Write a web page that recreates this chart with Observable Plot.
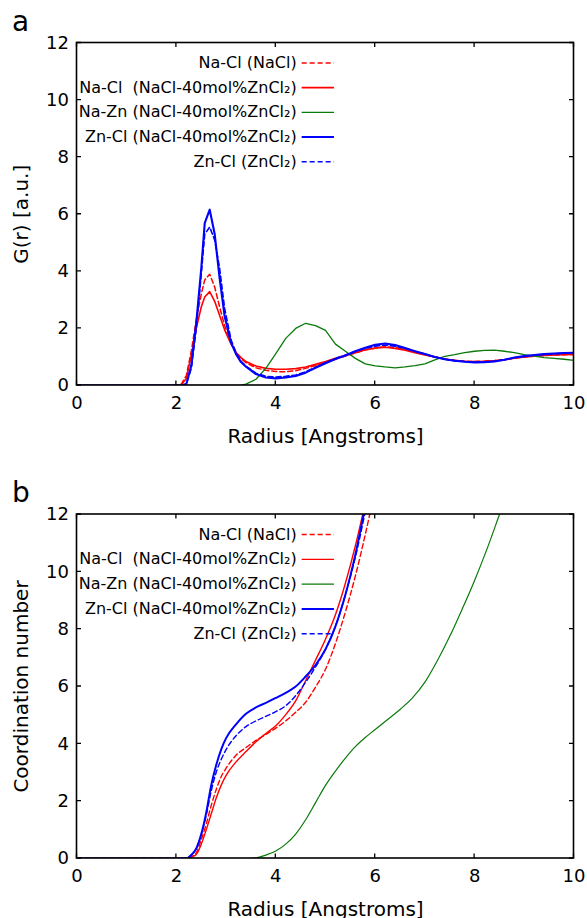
<!DOCTYPE html>
<html><head><meta charset="utf-8">
<script src="https://cdn.jsdelivr.net/npm/d3@7"></script>
<script src="https://cdn.jsdelivr.net/npm/@observablehq/plot@0.6"></script>
<style>
html,body{margin:0;padding:0;background:#fff;}
#wrap{width:587px;height:918px;overflow:hidden;}
#wrap svg{display:block;}
</style></head><body><div id="wrap"></div>
<script>
// ---- tick labels / axis text ----
const xTicks = [0, 2, 4, 6, 8, 10];
const yTicks = [0, 2, 4, 6, 8, 10, 12];
const xLabel = "Radius [Angstroms]";
const yLabelA = "G(r) [a.u.]";
const yLabelB = "Coordination number";
const seriesLabels = [
  "Na-Cl (NaCl)",
  "Na-Cl\u00a0 (NaCl-40mol%ZnCl\u2082)",
  "Na-Zn (NaCl-40mol%ZnCl\u2082)",
  "Zn-Cl (NaCl-40mol%ZnCl\u2082)",
  "Zn-Cl (ZnCl\u2082)"
];

// ---- panel a: G(r) ----
const rA = [0, 2.0, 2.1, 2.2, 2.3, 2.4, 2.5, 2.57, 2.67, 2.77, 2.87, 2.97, 3.1, 3.2, 3.3, 3.4, 3.6, 3.8, 4.0, 4.2, 4.4, 4.6, 4.8, 5.0, 5.2, 5.4, 5.6, 5.8, 6.0, 6.2, 6.4, 6.6, 6.8, 7.0, 7.2, 7.4, 7.6, 7.8, 8.0, 8.2, 8.4, 8.6, 8.8, 9.0, 9.2, 9.4, 9.6, 9.8, 10.0];
const naclNaClA = [0,0,0.05,0.35,1.2, 2.3,3.2,3.7,3.9,3.45, 2.75,2.1,1.5,1.15,0.95, 0.8,0.62,0.53,0.49,0.48, 0.52,0.6,0.7,0.8,0.92, 1.03,1.14,1.24,1.31,1.36, 1.33,1.26,1.17,1.08,1.0, 0.93,0.88,0.85,0.84,0.85, 0.87,0.9,0.96,1.0,1.03, 1.05,1.07,1.08,1.09];
const mixNaClA = [0,0,0.02,0.25,1.05, 2.0,2.75,3.1,3.29,2.95, 2.45,1.95,1.45,1.15,0.98, 0.84,0.68,0.6,0.57,0.57, 0.59,0.65,0.74,0.84,0.95, 1.05,1.15,1.25,1.31,1.34, 1.3,1.24,1.15,1.07,1.0, 0.93,0.88,0.85,0.84,0.85, 0.87,0.9,0.96,1.0,1.03, 1.05,1.07,1.08,1.09];
const mixNaZnA = [0,0,0,0,0, 0,0,0,0,0, 0,0,0,0,0.01, 0.05,0.22,0.6,1.12,1.65, 2.0,2.18,2.1,1.93,1.45, 1.2,0.95,0.76,0.69,0.65, 0.62,0.65,0.7,0.76,0.9, 1.02,1.08,1.15,1.2,1.23, 1.24,1.2,1.15,1.08,1.03, 0.98,0.95,0.92,0.88];
const mixZnClA = [0,0,0,0.05,0.7, 2.2,4.1,5.69,6.16,5.31, 3.75,2.43,1.5,1.1,0.82, 0.66,0.4,0.28,0.25,0.28, 0.33,0.45,0.62,0.78,0.93, 1.05,1.2,1.32,1.43,1.47, 1.42,1.31,1.2,1.1,1.0, 0.92,0.87,0.83,0.81,0.82, 0.84,0.9,0.98,1.03,1.07, 1.1,1.12,1.14,1.15];
const zncl2ZnClA = [0,0,0,0.05,0.6, 2.0,3.9,5.3,5.55,5.1, 4.1,2.7,1.6,1.15,0.85, 0.68,0.43,0.32,0.3,0.32, 0.37,0.48,0.64,0.8,0.95, 1.07,1.2,1.3,1.38,1.42, 1.38,1.3,1.2,1.1,1.0, 0.92,0.87,0.84,0.82,0.83, 0.85,0.9,0.97,1.02,1.06, 1.09,1.11,1.13,1.14];

// ---- panel b: coordination number (series end once they leave the top of the frame) ----
const rB = [0, 2.2, 2.3, 2.4, 2.5, 2.6, 2.7, 2.8, 2.9, 3.0, 3.2, 3.4, 3.6, 3.8, 4.0, 4.2, 4.4, 4.6, 4.8, 5.0, 5.2, 5.4, 5.6, 5.8, 6.0, 6.25, 6.5, 6.75, 7.0, 7.25, 7.5, 7.75, 8.0, 8.25, 8.5, 8.75];
const naclNaClB = [0,0,0.06,0.2,0.65,1.2,1.85,2.4,2.85,3.15,3.6,3.87,4.12,4.33,4.55,4.8,5.1,5.45,5.98,6.6,7.5,8.6,9.85,11.3,12.9];
const mixNaClB = [0,0,0.05,0.14,0.5,1.0,1.55,2.1,2.55,2.9,3.37,3.73,4.07,4.36,4.63,5.02,5.5,6.2,6.92,7.65,8.5,9.6,10.9,12.4];
const mixNaZnB = [0,0,0,0,0,0,0,0,0,0,0,0,0.02,0.12,0.26,0.5,0.85,1.35,1.95,2.55,3.05,3.5,3.9,4.22,4.5,4.85,5.2,5.6,6.15,6.9,7.75,8.7,9.7,10.8,12.0,13.2];
const mixZnClB = [0,0,0.12,0.35,0.85,1.6,2.55,3.25,3.8,4.2,4.68,5.05,5.27,5.43,5.6,5.78,6.0,6.35,6.75,7.3,8.1,9.2,10.6,12.3];
const zncl2ZnClB = [0,0,0.12,0.35,0.82,1.5,2.35,3.0,3.45,3.8,4.28,4.6,4.8,4.96,5.12,5.33,5.68,6.15,6.68,7.3,8.1,9.2,10.5,12.1];

// ---- styles (kept apart from data) ----
const styles = [
  {color: "#ff0000", dash: "5,3"},
  {color: "#ff0000", dash: null},
  {color: "#0a7a0a", dash: null},
  {color: "#0000ff", dash: null},
  {color: "#0000ff", dash: "5,3"}
];
const widthsA = [1.5, 1.6, 1.3, 2.1, 1.6];
const widthsB = [1.4, 1.4, 1.2, 2.0, 1.4];
const legendTextX = 4.42, legendLineX1 = 4.52, legendLineX2 = 5.17;
const legendTop = 11.3, legendStep = 0.865;

function frameTicks(xt, yt) {
  return (index, scales, values, dims) => {
    const l = dims.marginLeft, t = dims.marginTop;
    const r = dims.width - dims.marginRight, b = dims.height - dims.marginBottom;
    const L = 4.5;
    let p = "";
    for (const v of xt) { const x = scales.x(v); p += `M${x},${b}v${-L}M${x},${t}v${L}`; }
    for (const v of yt) { const y = scales.y(v); p += `M${l},${y}h${L}M${r},${y}h${-L}`; }
    const g = d3.create("svg:g").attr("fill", "none").attr("stroke", "#000");
    g.append("path").attr("d", p).attr("stroke-width", 1.3);
    g.append("rect").attr("x", l).attr("y", t).attr("width", r - l).attr("height", b - t).attr("stroke-width", 1.6);
    return g.node();
  };
}

function panel({letter, yLabel, r, series, widths, curve, height, marginTop, marginBottom}) {
  const marks = [];
  series.forEach((vals, i) => {
    const data = vals.map((y, j) => ({x: r[j], y}));
    marks.push(Plot.line(data, {x: "x", y: "y", stroke: styles[i].color, strokeWidth: widths[i],
      strokeDasharray: styles[i].dash, curve, clip: true, strokeLinejoin: "round"}));
  });
  seriesLabels.forEach((lab, i) => {
    marks.push(Plot.text([lab], {x: () => legendTextX, y: () => legendTop - i * legendStep,
      textAnchor: "end", lineAnchor: "middle", fontSize: 16, fill: "#000"}));
    marks.push(Plot.link([lab], {x1: () => legendLineX1, x2: () => legendLineX2,
      y1: () => legendTop - i * legendStep, y2: () => legendTop - i * legendStep,
      stroke: styles[i].color, strokeWidth: widths[i], strokeDasharray: styles[i].dash}));
  });
  marks.push(frameTicks(xTicks, yTicks));
  marks.push(Plot.axisX({ticks: xTicks, tickSize: 0, tickPadding: 11, label: null, fontSize: 18}));
  marks.push(Plot.axisY({ticks: yTicks, tickSize: 0, tickPadding: 8, label: null, fontSize: 18}));
  marks.push(Plot.text([xLabel], {frameAnchor: "bottom", dy: 43, lineAnchor: "top", fontSize: 20, fill: "#000"}));
  marks.push(Plot.text([yLabel], {frameAnchor: "left", dx: -55.5, rotate: -90, textAnchor: "middle", lineAnchor: "middle", fontSize: 20, fill: "#000"}));
  marks.push(Plot.text([letter], {frameAnchor: "top-left", dx: -65, dy: -21, textAnchor: "start", lineAnchor: "middle", fontSize: 28, fill: "#000"}));
  return Plot.plot({
    width: 587, height, marginLeft: 76.5, marginRight: 13.5, marginTop, marginBottom,
    x: {domain: [0, 10]}, y: {domain: [0, 12]},
    style: {fontFamily: "'DejaVu Sans', sans-serif", fontSize: "18px", color: "#000", background: "#fff", overflow: "visible"},
    marks
  });
}

const wrap = document.getElementById("wrap");
wrap.appendChild(panel({letter: "a", yLabel: yLabelA, r: rA,
  series: [naclNaClA, mixNaClA, mixNaZnA, mixZnClA, zncl2ZnClA],
  widths: widthsA, curve: "linear", height: 459, marginTop: 42.5, marginBottom: 74}));
wrap.appendChild(panel({letter: "b", yLabel: yLabelB, r: rB,
  series: [naclNaClB, mixNaClB, mixNaZnB, mixZnClB, zncl2ZnClB],
  widths: widthsB, curve: "monotone-x", height: 459, marginTop: 55, marginBottom: 60}));
</script>
</body></html>
